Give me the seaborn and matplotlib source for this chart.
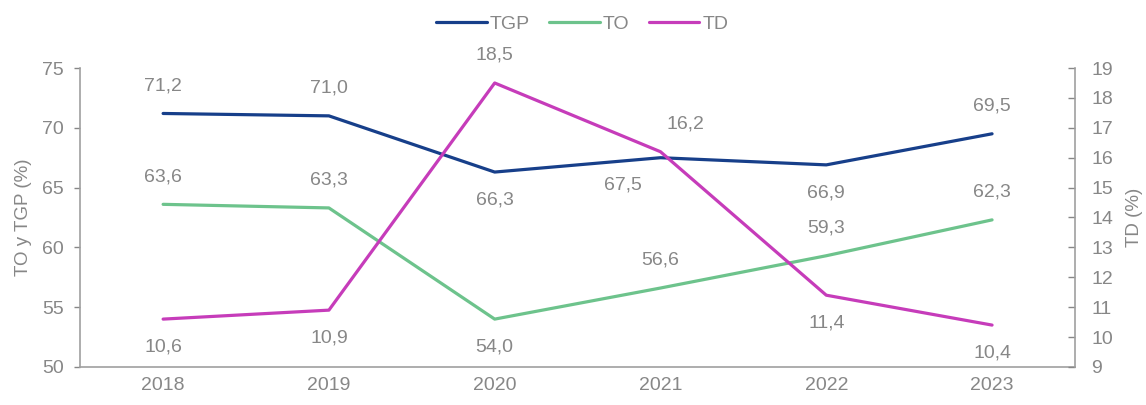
import seaborn as sns
import matplotlib.pyplot as plt
import pandas as pd

years = ['2018', '2019', '2020', '2021', '2022', '2023']
tgp = [71.2, 71.0, 66.3, 67.5, 66.9, 69.5]
to = [63.6, 63.3, 54.0, 56.6, 59.3, 62.3]
td = [10.6, 10.9, 18.5, 16.2, 11.4, 10.4]

# label placement: 1 above, -1 below
tgp_pos = [1, 1, -1, -1, -1, 1]
to_pos = [1, 1, -1, 1, 1, 1]
td_pos = [-1, -1, 1, 1, -1, -1]

c_tgp = '#173f8a'
c_to = '#6dc38c'
c_td = '#c63cba'
grey = '#878787'

sns.set_theme(style='white')
plt.rcParams['font.family'] = ['Liberation Sans', 'DejaVu Sans']

df = pd.DataFrame({'year': years, 'TGP': tgp, 'TO': to, 'TD': td})

fig = plt.figure(figsize=(11.46, 4.05), dpi=100)
ax = fig.add_axes([0.070, 0.094, 0.868, 0.738])
ax2 = ax.twinx()

sns.lineplot(data=df, x='year', y='TGP', color=c_tgp, lw=2.3, ax=ax, label='TGP', legend=False)
sns.lineplot(data=df, x='year', y='TO', color=c_to, lw=2.3, ax=ax, label='TO', legend=False)
sns.lineplot(data=df, x='year', y='TD', color=c_td, lw=2.3, ax=ax2, label='TD', legend=False)

def fmt(v):
    return f'{v:.1f}'.replace('.', ',')

# a couple of labels are nudged sideways in the original
nudge = {('TGP', 3): -27, ('TD', 3): 18}

for name, axis, vals, pos in [('TGP', ax, tgp, tgp_pos), ('TO', ax, to, to_pos), ('TD', ax2, td, td_pos)]:
    for i, (v, p) in enumerate(zip(vals, pos)):
        dx = nudge.get((name, i), 0)
        axis.annotate(fmt(v), (i, v), xytext=(dx, 20 * p), textcoords='offset points',
                      ha='center', va='center', fontsize=14, color=grey)

ax.set_xlim(-0.5, 5.5)
ax.set_ylim(50, 75)
ax.set_yticks(range(50, 76, 5))
ax2.set_ylim(9, 19)
ax2.set_yticks(range(9, 20))

ax.set_xlabel('')
ax.set_ylabel('TO y TGP (%)', color=grey, fontsize=13.5, labelpad=7)
ax2.set_ylabel('TD (%)', color=grey, fontsize=13.5, labelpad=9)

for a in (ax, ax2):
    for s in a.spines.values():
        s.set_visible(False)
    a.tick_params(colors=grey, labelsize=14, labelcolor=grey)
ax.spines['left'].set_visible(True)
ax.spines['bottom'].set_visible(True)
ax2.spines['right'].set_visible(True)
for s in (ax.spines['left'], ax.spines['bottom'], ax2.spines['right']):
    s.set_color('#a0a0a0')
    s.set_linewidth(1.2)

ax.tick_params(axis='y', length=4, width=1, direction='out', left=True, pad=8)
ax.tick_params(axis='x', length=0, pad=7)
ax2.tick_params(axis='y', length=5, width=1, direction='in', right=True, pad=12)

handles = ax.get_lines()[:2] + ax2.get_lines()[:1]
fig.legend(handles, ['TGP', 'TO', 'TD'], loc='upper center', bbox_to_anchor=(0.508, 1.005),
           ncol=3, frameon=False, fontsize=14, handlelength=2.6, handletextpad=0.15,
           columnspacing=1.0, labelcolor=grey)

fig.savefig('out.png', dpi=100)
